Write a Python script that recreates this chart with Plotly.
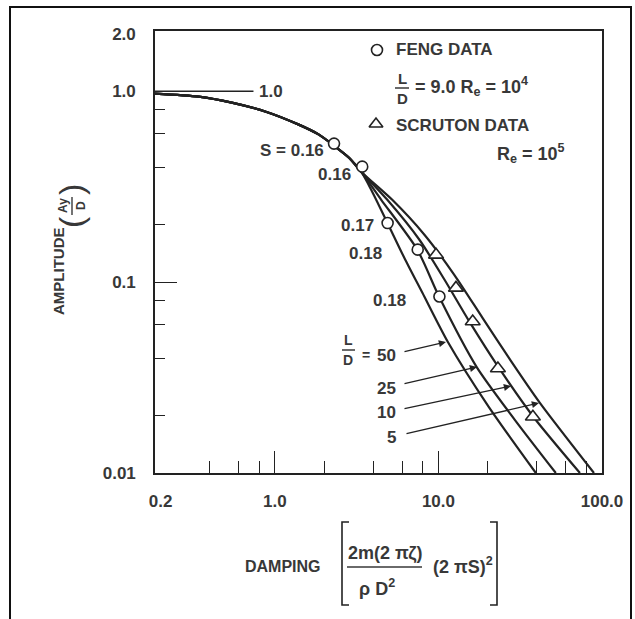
import numpy as np
import plotly.graph_objects as go

# ---------------- data ----------------
shared_x = [0.185, 0.342, 0.545, 0.881, 1.40, 1.86, 2.30, 2.84, 3.37]
shared_y = [0.973, 0.938, 0.872, 0.782, 0.669, 0.593, 0.519, 0.449, 0.379]

ld50_x = [3.88, 4.87, 6.27, 7.98, 11.4, 20.3, 39.4]
ld50_y = [0.305, 0.205, 0.131, 0.0879, 0.0487, 0.0222, 0.01]
ld25_x = [4.47, 7.43, 10.1, 17.1, 29.3, 52.2]
ld25_y = [0.270, 0.148, 0.0838, 0.036, 0.019, 0.01]
ld10_x = [4.87, 7.65, 10.9, 15.5, 23.0, 37.7, 73.3]
ld10_y = [0.270, 0.1668, 0.1029, 0.0619, 0.0364, 0.0199, 0.01]
ld5_x = [5.22, 8.21, 12.5, 18.6, 28.0, 41.7, 89.3]
ld5_y = [0.270, 0.1772, 0.1093, 0.065, 0.0382, 0.0233, 0.01]

feng_x = [2.30, 3.42, 4.89, 7.47, 10.14]
feng_y = [0.532, 0.403, 0.204, 0.148, 0.0841]
scruton_x = [9.67, 12.8, 16.2, 23.1, 37.8]
scruton_y = [0.139, 0.0933, 0.0622, 0.0353, 0.0197]

x_tick_vals = [0.2, 1, 10, 100]
x_tick_text = ["0.2", "1.0", "10.0", "100.0"]
x_minor_vals = [0.4, 0.6, 0.8, 2, 4, 6, 8, 20, 40, 60, 80]
x_major_marks = [1, 10]
y_tick_vals = [0.01, 0.1, 1, 2]
y_tick_text = ["0.01", "0.1", "1.0", "2.0"]
y_minor_vals = [0.02, 0.04, 0.06, 0.08, 0.2, 0.4, 0.6, 0.8]
y_major_marks = [0.1]

curve_labels = ["50", "25", "10", "5"]
strouhal_labels = ["S = 0.16", "0.16", "0.17", "0.18", "0.18"]

# ---------------- figure ----------------
W, H = 635, 619
L, R, T, B = 155, 602, 31, 473
INK = "#222222"
TXT = "#383838"
FONT = "Liberation Sans, Arial, sans-serif"
NUMFONT = "Liberation Sans Narrow, Arial Narrow, Liberation Sans, sans-serif"


def px(xp):
    return (xp - L) / (R - L)


def py(yp):
    return (B - yp) / (B - T)


fig = go.Figure()
for bx, by in [(ld50_x, ld50_y), (ld25_x, ld25_y), (ld10_x, ld10_y), (ld5_x, ld5_y)]:
    fig.add_trace(go.Scatter(x=shared_x + bx, y=shared_y + by, mode="lines",
                             line=dict(color=INK, width=2.2, shape="spline", smoothing=0.7),
                             showlegend=False, hoverinfo="skip"))

fig.add_trace(go.Scatter(x=feng_x, y=feng_y, mode="markers",
                         marker=dict(symbol="circle", size=11, color="white", line=dict(color=INK, width=1.6)),
                         showlegend=False))
fig.add_trace(go.Scatter(x=scruton_x, y=scruton_y, mode="markers",
                         marker=dict(symbol="triangle-up", size=13, color="white", line=dict(color=INK, width=1.6)),
                         showlegend=False))
# invisible trace hosting the overlay axes that carry the long major ticks
fig.add_trace(go.Scatter(x=[1], y=[0.1], xaxis="x2", yaxis="y2", mode="markers",
                         marker=dict(opacity=0), showlegend=False, hoverinfo="skip"))

xr = [np.log10(0.185), 2.0]
yr = [-2.0, np.log10(2.07)]
tickfont = dict(family=NUMFONT, size=17, color=TXT, weight="bold")
fig.update_layout(
    width=W, height=H,
    margin=dict(l=L, r=W - R, t=T, b=H - B),
    paper_bgcolor="white", plot_bgcolor="white",
    font=dict(family=FONT, size=14, color=TXT),
    xaxis=dict(type="log", range=xr, showgrid=False, zeroline=False,
               showline=True, linecolor=INK, linewidth=1.6, mirror=True,
               tickmode="array", tickvals=x_tick_vals, ticktext=x_tick_text, ticks="",
               tickfont=tickfont, ticklabelstandoff=12,
               minor=dict(tickmode="array", tickvals=x_minor_vals, ticks="inside", ticklen=12,
                          tickcolor=INK, tickwidth=1.3, showgrid=False)),
    yaxis=dict(type="log", range=yr, showgrid=False, zeroline=False,
               showline=True, linecolor=INK, linewidth=1.6, mirror=True,
               tickmode="array", tickvals=y_tick_vals, ticktext=y_tick_text, ticks="",
               tickfont=tickfont, ticklabelstandoff=14,
               minor=dict(tickmode="array", tickvals=y_minor_vals, ticks="inside", ticklen=10,
                          tickcolor=INK, tickwidth=1.3, showgrid=False)),
    xaxis2=dict(type="log", range=xr, overlaying="x", side="bottom", showgrid=False, zeroline=False,
                showline=False, tickmode="array", tickvals=x_major_marks, ticks="inside", ticklen=22,
                tickcolor=INK, tickwidth=1.3, showticklabels=False),
    yaxis2=dict(type="log", range=yr, overlaying="y", side="left", showgrid=False, zeroline=False,
                showline=False, tickmode="array", tickvals=y_major_marks, ticks="inside", ticklen=22,
                tickcolor=INK, tickwidth=1.3, showticklabels=False),
    xaxis3=dict(range=[0, 1], overlaying="x", visible=False),
    yaxis3=dict(range=[0, 1], overlaying="y", visible=False),
)

ann = []


def text(x, y, s, size=16, xanchor="center", yanchor="middle", angle=0, xref="paper", yref="paper",
         family=FONT, weight="bold"):
    ann.append(dict(x=x, y=y, xref=xref, yref=yref, text=s, showarrow=False, xanchor=xanchor,
                    yanchor=yanchor, textangle=angle,
                    font=dict(size=size, color=TXT, family=family, weight=weight)))


def hline(x0, x1, y, width=1.5):
    fig.add_shape(type="line", xref="paper", yref="paper", x0=px(x0), x1=px(x1), y0=py(y), y1=py(y),
                  line=dict(color=TXT, width=width))


# "1.0" asymptote label
fig.add_shape(type="line", xref="x", yref="y", x0=0.185, x1=0.74, y0=1.0, y1=1.0,
              line=dict(color=INK, width=1.6))
text(px(257), py(92), "1.0", xanchor="left", family=NUMFONT, size=17)

# Strouhal labels
text(px(326), py(150), strouhal_labels[0], xanchor="right", family=NUMFONT, size=17)
text(px(334), py(175), strouhal_labels[1], family=NUMFONT, size=17)
text(px(357), py(225), strouhal_labels[2], family=NUMFONT, size=17)
text(px(365), py(253), strouhal_labels[3], family=NUMFONT, size=17)
text(px(389), py(300), strouhal_labels[4], family=NUMFONT, size=17)

# L/D labels with arrows
text(px(348), py(340), "L", size=14)
text(px(348), py(360), "D", size=14)
hline(342, 355, 350)
text(px(366), py(355), "=", size=14)
text(px(398), py(355), curve_labels[0], xanchor="right", family=NUMFONT, size=17)
text(px(398), py(388), curve_labels[1], xanchor="right", family=NUMFONT, size=17)
text(px(398), py(412), curve_labels[2], xanchor="right", family=NUMFONT, size=17)
text(px(398), py(437), curve_labels[3], xanchor="right", family=NUMFONT, size=17)
arrows = [((403, 352), (446, 342)), ((403, 384), (477, 367)), ((403, 409), (511, 386)), ((405, 434), (539, 403))]
for (x0, y0), (x1, y1) in arrows:
    ann.append(dict(x=px(x1), y=py(y1), xref="paper", yref="paper", ax=x0 - x1, ay=y0 - y1,
                    showarrow=True, arrowhead=2, arrowsize=1.1, arrowwidth=1.3, arrowcolor=INK,
                    standoff=0, text=""))

# legend block
fig.add_trace(go.Scatter(x=[px(377)], y=[py(50)], xaxis="x3", yaxis="y3", mode="markers",
                         marker=dict(symbol="circle", size=11, color="white", line=dict(color=INK, width=1.6)),
                         showlegend=False, hoverinfo="skip"))
fig.add_trace(go.Scatter(x=[px(376)], y=[py(124)], xaxis="x3", yaxis="y3", mode="markers",
                         marker=dict(symbol="triangle-up", size=12, color="white", line=dict(color=INK, width=1.6)),
                         showlegend=False, hoverinfo="skip"))
text(px(394), py(50), "FENG DATA", xanchor="left", size=17)
text(px(402), py(79), "L", size=15)
text(px(402), py(98), "D", size=15)
hline(395, 409, 88)
text(px(413), py(86), "= 9.0 R<sub>e</sub> = 10<sup>4</sup>", xanchor="left", family=NUMFONT, size=18)
text(px(394), py(125), "SCRUTON DATA", xanchor="left", size=17)
text(px(495), py(153), "R<sub>e</sub> = 10<sup>5</sup>", xanchor="left", family=NUMFONT, size=18)

# y-axis title: AMPLITUDE (Ay/D)
text(px(58), py(271), "AMPLITUDE", size=15, angle=-90)
text(px(71), py(222), "(", size=34, angle=-90, weight="normal")
text(px(71), py(190), ")", size=34, angle=-90, weight="normal")
text(px(63), py(206), "Ay", size=12, angle=-90)
text(px(81), py(206), "D", size=12, angle=-90)
fig.add_shape(type="line", xref="paper", yref="paper", x0=px(72), x1=px(72), y0=py(197), y1=py(215),
              line=dict(color=TXT, width=1.4))

# x-axis title: DAMPING [ 2m(2πζ)/(ρD²) (2πS)² ]
text(px(283), py(566), "DAMPING", size=16)
text(px(385), py(553), "2m(2 πζ)", size=18, family=NUMFONT)
text(px(377), py(587), "ρ D<sup>2</sup>", size=18, family=NUMFONT)
hline(347, 422, 567)
text(px(463), py(565), "(2 πS)<sup>2</sup>", size=18, family=NUMFONT)
for xs, sgn in [(342, 1), (497, -1)]:
    fig.add_shape(type="path", xref="paper", yref="paper",
                  path=(f"M {px(xs + 7 * sgn)} {py(522)} L {px(xs)} {py(522)} "
                        f"L {px(xs)} {py(605)} L {px(xs + 7 * sgn)} {py(605)}"),
                  line=dict(color=INK, width=1.6))

# outer frame of the figure
fig.add_shape(type="path", xref="paper", yref="paper",
              path=f"M {px(10)} {py(625)} L {px(10)} {py(7)} L {px(631)} {py(7)} L {px(631)} {py(625)}",
              line=dict(color="#111", width=2))

fig.update_layout(annotations=ann)
fig.write_html("out.html")
